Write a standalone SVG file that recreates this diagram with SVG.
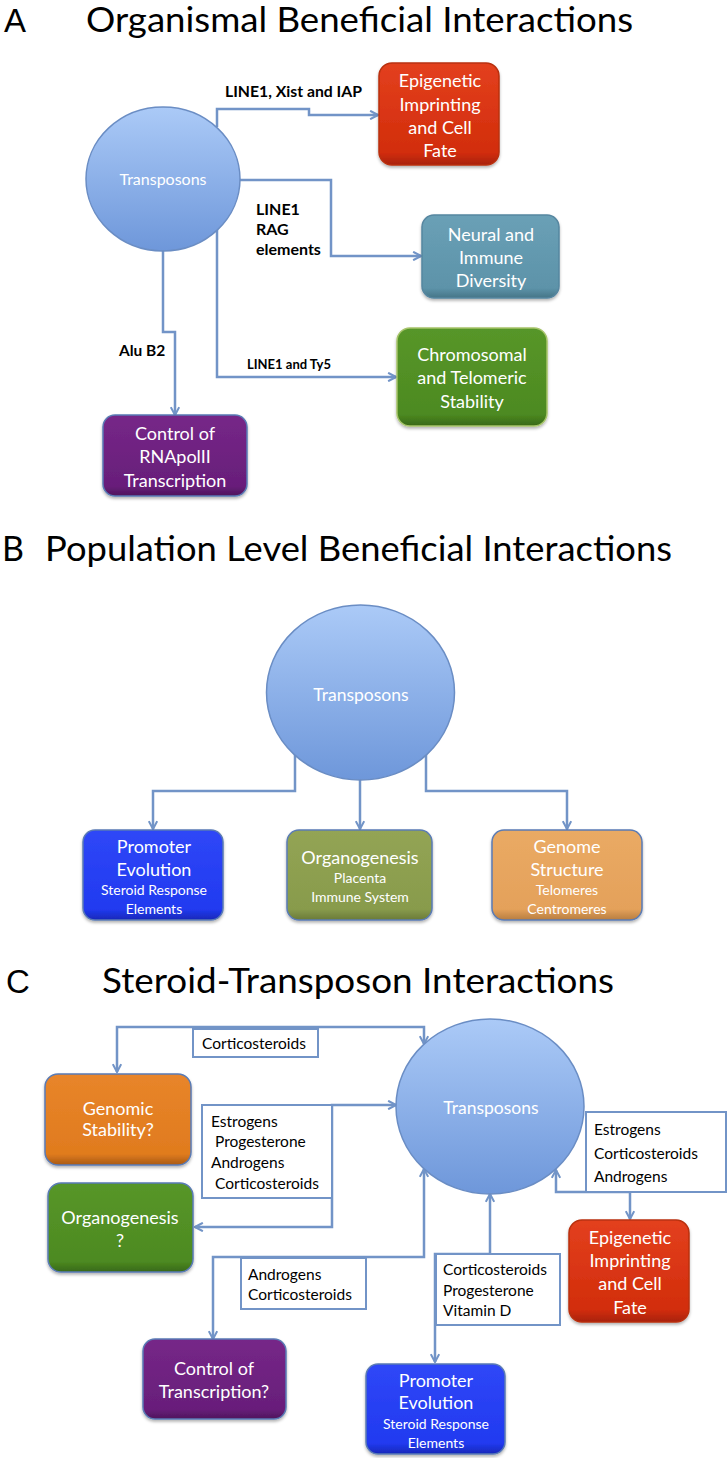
<svg xmlns="http://www.w3.org/2000/svg" width="728" height="1458" viewBox="0 0 728 1458">
<defs>
<style>
.title{font-family:Lato,"Open Sans",sans-serif;font-size:34px;fill:#000}
.letter{font-family:"Liberation Sans",Arial,sans-serif;font-size:33px;fill:#000}
.ct{font-family:Lato,"Open Sans",sans-serif;fill:#fff;text-anchor:middle}
.bt{font-family:Lato,"Open Sans",sans-serif;font-size:18px;fill:#fff;text-anchor:middle}
.st{font-family:Lato,"Open Sans",sans-serif;font-size:14px;fill:#fff;text-anchor:middle}
.lb{font-family:Lato,"Open Sans",sans-serif;font-weight:bold;fill:#000}
.lt{font-family:Lato,"Open Sans",sans-serif;font-size:15.5px;fill:#000}
.conn{fill:none;stroke:#7294c7;stroke-width:2.5}
.lbox{fill:#fff;stroke:#7294c7;stroke-width:2}
.circ{fill:url(#gCirc);stroke:#6a8dc4;stroke-width:1.5}
</style>
<linearGradient id="gCirc" x1="0" y1="0" x2="0" y2="1"><stop offset="0" stop-color="#abcaf7"/><stop offset="1" stop-color="#6e97da"/></linearGradient>
<linearGradient id="gRed" x1="0" y1="0" x2="0" y2="1"><stop offset="0" stop-color="#e3401e"/><stop offset="0.88" stop-color="#d22d0b"/><stop offset="1" stop-color="#a82208"/></linearGradient>
<linearGradient id="gTeal" x1="0" y1="0" x2="0" y2="1"><stop offset="0" stop-color="#6aa0b6"/><stop offset="0.88" stop-color="#5d93a9"/><stop offset="1" stop-color="#467587"/></linearGradient>
<linearGradient id="gGreen" x1="0" y1="0" x2="0" y2="1"><stop offset="0" stop-color="#579629"/><stop offset="0.88" stop-color="#4d8a21"/><stop offset="1" stop-color="#386818"/></linearGradient>
<linearGradient id="gPurple" x1="0" y1="0" x2="0" y2="1"><stop offset="0" stop-color="#762788"/><stop offset="0.88" stop-color="#681e7a"/><stop offset="1" stop-color="#4e155c"/></linearGradient>
<linearGradient id="gBlue" x1="0" y1="0" x2="0" y2="1"><stop offset="0" stop-color="#2f47f7"/><stop offset="0.88" stop-color="#213af0"/><stop offset="1" stop-color="#1828b8"/></linearGradient>
<linearGradient id="gOlive" x1="0" y1="0" x2="0" y2="1"><stop offset="0" stop-color="#93a454"/><stop offset="0.88" stop-color="#889b4c"/><stop offset="1" stop-color="#6a7a38"/></linearGradient>
<linearGradient id="gTan" x1="0" y1="0" x2="0" y2="1"><stop offset="0" stop-color="#eaaa64"/><stop offset="0.88" stop-color="#e4a15a"/><stop offset="1" stop-color="#b77d40"/></linearGradient>
<linearGradient id="gOrange" x1="0" y1="0" x2="0" y2="1"><stop offset="0" stop-color="#e8852a"/><stop offset="0.88" stop-color="#e07b1e"/><stop offset="1" stop-color="#a85a14"/></linearGradient>
<filter id="sh" x="-10%" y="-10%" width="120%" height="130%"><feDropShadow dx="0" dy="2" stdDeviation="1.5" flood-color="#000" flood-opacity="0.3"/></filter>
<marker id="ah" viewBox="0 0 10 10" refX="9" refY="5" markerWidth="4.2" markerHeight="4.2" orient="auto-start-reverse" markerUnits="strokeWidth"><path d="M1.5,1 L9,5 L1.5,9" fill="none" stroke="#7294c7" stroke-width="2"/></marker>
</defs>
<rect width="728" height="1458" fill="#fff"/>

<!-- Titles -->
<g id="titleA"><text class="letter" x="4" y="32">A</text><text class="title" x="86" y="32" textLength="547" lengthAdjust="spacingAndGlyphs">Organismal Beneficial Interactions</text></g>
<g id="titleB"><text class="title" x="2" y="561">B</text><text class="title" x="45" y="561" textLength="627" lengthAdjust="spacingAndGlyphs">Population Level Beneficial Interactions</text></g>
<g id="titleC"><text class="letter" x="6" y="993">C</text><text class="title" x="102" y="993" textLength="512" lengthAdjust="spacingAndGlyphs">Steroid-Transposon Interactions</text></g>

<!-- Connectors -->
<g id="connectors">
<path class="conn" d="M217,127 V109 H309 V115 H378" marker-end="url(#ah)"/>
<path class="conn" d="M240,180 H331 V256 H421" marker-end="url(#ah)"/>
<path class="conn" d="M217,229 V377 H396" marker-end="url(#ah)"/>
<path class="conn" d="M163,250 V332 H175 V415" marker-end="url(#ah)"/>
<path class="conn" d="M295,755 V791 H153 V829" marker-end="url(#ah)"/>
<path class="conn" d="M360,780 V829" marker-end="url(#ah)"/>
<path class="conn" d="M426,755 V791 H567 V829" marker-end="url(#ah)"/>
<path class="conn" d="M117,1072 V1027 H424 V1044" marker-start="url(#ah)" marker-end="url(#ah)"/>
<path class="conn" d="M195,1227 H332 V1105 H396" marker-start="url(#ah)" marker-end="url(#ah)"/>
<path class="conn" d="M213,1339 V1257 H424 V1169" marker-start="url(#ah)" marker-end="url(#ah)"/>
<path class="conn" d="M435,1362 V1254 H490 V1194" marker-start="url(#ah)" marker-end="url(#ah)"/>
<path class="conn" d="M630,1219 V1192 H556 V1170" marker-start="url(#ah)" marker-end="url(#ah)"/>
</g>

<!-- Connector labels -->
<g id="labels">
<text class="lb" x="225" y="97" font-size="16" textLength="137" lengthAdjust="spacingAndGlyphs">LINE1, Xist and IAP</text>
<text class="lb" x="256" y="215" font-size="16">LINE1</text>
<text class="lb" x="256" y="235" font-size="16">RAG</text>
<text class="lb" x="256" y="255" font-size="16">elements</text>
<text class="lb" x="247" y="369" font-size="13">LINE1 and Ty5</text>
<text class="lb" x="119" y="356" font-size="15.5">Alu B2</text>
<g id="lab-c1"><rect class="lbox" x="193" y="1029" width="125" height="28"/><text class="lt" x="202" y="1049">Corticosteroids</text></g>
<g id="lab-c2"><rect class="lbox" x="202" y="1105" width="130" height="93"/><text class="lt" x="211" y="1127">Estrogens</text><text class="lt" x="215" y="1147">Progesterone</text><text class="lt" x="211" y="1168">Androgens</text><text class="lt" x="215" y="1189">Corticosteroids</text></g>
<g id="lab-c3"><rect class="lbox" x="241" y="1258" width="125" height="51"/><text class="lt" x="248" y="1280">Androgens</text><text class="lt" x="248" y="1300">Corticosteroids</text></g>
<g id="lab-c4"><rect class="lbox" x="436" y="1254" width="124" height="71"/><text class="lt" x="443" y="1275">Corticosteroids</text><text class="lt" x="443" y="1296">Progesterone</text><text class="lt" x="443" y="1316">Vitamin D</text></g>
<g id="lab-c5"><rect class="lbox" x="586" y="1112" width="140" height="80"/><text class="lt" x="594" y="1135" font-size="17.5">Estrogens</text><text class="lt" x="594" y="1159" font-size="17.5">Corticosteroids</text><text class="lt" x="594" y="1182" font-size="17.5">Androgens</text></g>
</g>

<!-- Section A nodes -->
<g id="a-transposons"><ellipse class="circ" cx="163" cy="179" rx="77" ry="72"/><text class="ct" x="163" y="185" font-size="16">Transposons</text></g>
<g id="a-epigenetic"><rect x="379" y="63" width="120" height="102" rx="13" fill="url(#gRed)" stroke="#b9300f" stroke-width="1.5" filter="url(#sh)"/><text class="bt" x="440" y="87">Epigenetic</text><text class="bt" x="440" y="111">Imprinting</text><text class="bt" x="440" y="134">and Cell</text><text class="bt" x="440" y="157">Fate</text></g>
<g id="a-neural"><rect x="422" y="215" width="137" height="83" rx="12" fill="url(#gTeal)" stroke="#5686a0" stroke-width="1.5" filter="url(#sh)"/><text class="bt" x="491" y="241">Neural and</text><text class="bt" x="491" y="264">Immune</text><text class="bt" x="491" y="287">Diversity</text></g>
<g id="a-chromosomal"><rect x="397" y="328" width="150" height="98" rx="13" fill="url(#gGreen)" stroke="#a6c46a" stroke-width="1.5" filter="url(#sh)"/><text class="bt" x="472" y="361">Chromosomal</text><text class="bt" x="472" y="384">and Telomeric</text><text class="bt" x="472" y="408">Stability</text></g>
<g id="a-control"><rect x="103" y="415" width="144" height="81" rx="12" fill="url(#gPurple)" stroke="#5a7bb5" stroke-width="1.5" filter="url(#sh)"/><text class="bt" x="175" y="440">Control of</text><text class="bt" x="175" y="463">RNApolII</text><text class="bt" x="175" y="487">Transcription</text></g>

<!-- Section B nodes -->
<g id="b-transposons"><ellipse class="circ" cx="360.5" cy="692.5" rx="94" ry="87.5"/><text class="ct" x="361" y="701" font-size="17.5">Transposons</text></g>
<g id="b-promoter"><rect x="83" y="830" width="140" height="90" rx="12" fill="url(#gBlue)" stroke="#5a7bb5" stroke-width="1.5" filter="url(#sh)"/><text class="bt" x="154" y="853">Promoter</text><text class="bt" x="154" y="876">Evolution</text><text class="st" x="154" y="895">Steroid Response</text><text class="st" x="154" y="914">Elements</text></g>
<g id="b-organogenesis"><rect x="287" y="830" width="145" height="90" rx="12" fill="url(#gOlive)" stroke="#5a7bb5" stroke-width="1.5" filter="url(#sh)"/><text class="bt" x="360" y="864">Organogenesis</text><text class="st" x="360" y="883">Placenta</text><text class="st" x="360" y="902">Immune System</text></g>
<g id="b-genome"><rect x="492" y="830" width="150" height="90" rx="12" fill="url(#gTan)" stroke="#5a7bb5" stroke-width="1.5" filter="url(#sh)"/><text class="bt" x="567" y="853">Genome</text><text class="bt" x="567" y="876">Structure</text><text class="st" x="567" y="895">Telomeres</text><text class="st" x="567" y="914">Centromeres</text></g>

<!-- Section C nodes -->
<g id="c-transposons"><ellipse class="circ" cx="490" cy="1106.5" rx="94" ry="87.5"/><text class="ct" x="491" y="1114" font-size="17.5">Transposons</text></g>
<g id="c-genomic"><rect x="45" y="1074" width="146" height="91" rx="13" fill="url(#gOrange)" stroke="#5a7bb5" stroke-width="1.5" filter="url(#sh)"/><text class="bt" x="118" y="1115" font-size="16">Genomic</text><text class="bt" x="118" y="1136" font-size="16">Stability?</text></g>
<g id="c-organogenesis"><rect x="48" y="1183" width="145" height="89" rx="13" fill="url(#gGreen)" stroke="#5a7bb5" stroke-width="1.5" filter="url(#sh)"/><text class="bt" x="120" y="1224">Organogenesis</text><text class="bt" x="120" y="1247">?</text></g>
<g id="c-control"><rect x="143" y="1339" width="143" height="80" rx="12" fill="url(#gPurple)" stroke="#5a7bb5" stroke-width="1.5" filter="url(#sh)"/><text class="bt" x="214" y="1375">Control of</text><text class="bt" x="214" y="1398">Transcription?</text></g>
<g id="c-promoter"><rect x="366" y="1364" width="139" height="90" rx="12" fill="url(#gBlue)" stroke="#5a7bb5" stroke-width="1.5" filter="url(#sh)"/><text class="bt" x="436" y="1387">Promoter</text><text class="bt" x="436" y="1409">Evolution</text><text class="st" x="436" y="1429">Steroid Response</text><text class="st" x="436" y="1448">Elements</text></g>
<g id="c-epigenetic"><rect x="569" y="1220" width="120" height="102" rx="13" fill="url(#gRed)" stroke="#b9300f" stroke-width="1.5" filter="url(#sh)"/><text class="bt" x="630" y="1244">Epigenetic</text><text class="bt" x="630" y="1267">Imprinting</text><text class="bt" x="630" y="1290">and Cell</text><text class="bt" x="630" y="1314">Fate</text></g>
</svg>
